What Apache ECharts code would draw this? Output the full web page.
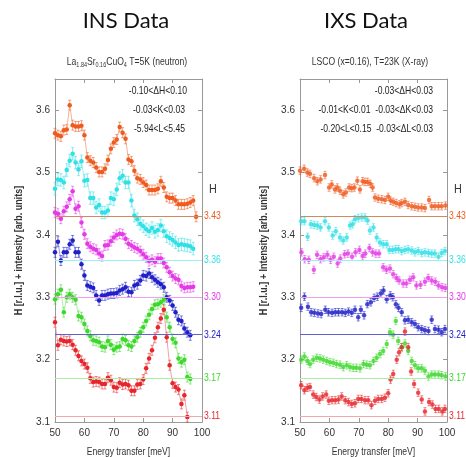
<!DOCTYPE html>
<html>
<head>
<meta charset="utf-8">
<script src="https://cdn.jsdelivr.net/npm/echarts@6/dist/echarts.min.js"></script>
<style>
  html, body { margin: 0; padding: 0; background: #fff; }
  #chart { width: 466px; height: 457px; }
</style>
</head>
<body>
<div id="chart"></div>
<script>
// 数据: 左图 INS (neutron)，能量 50..98 meV，每 1 meV 一个点
var insEnergy = [50,51,52,53,54,55,56,57,58,59,60,61,62,63,64,65,66,67,68,69,70,71,72,73,74,75,76,77,78,79,80,81,82,83,84,85,86,87,88,89,90,91,92,93,94,95,96,97,98];
var insOrange = [3.563,3.560,3.558,3.568,3.569,3.608,3.576,3.574,3.574,3.575,3.560,3.524,3.519,3.516,3.508,3.501,3.501,3.506,3.520,3.538,3.548,3.553,3.573,3.564,3.554,3.521,3.518,3.503,3.491,3.489,3.484,3.480,3.472,3.472,3.472,3.474,3.486,3.476,3.461,3.459,3.459,3.455,3.449,3.449,3.449,3.450,3.452,3.455,3.429];
var insCyan = [3.474,3.489,3.488,3.484,3.504,3.519,3.530,3.516,3.505,3.518,3.487,3.488,3.459,3.459,3.444,3.448,3.436,3.436,3.439,3.459,3.457,3.473,3.491,3.495,3.484,3.484,3.455,3.431,3.425,3.418,3.414,3.409,3.406,3.411,3.405,3.408,3.415,3.406,3.398,3.395,3.392,3.388,3.384,3.385,3.384,3.383,3.382,3.378];
var insMagenta = [3.436,3.434,3.426,3.438,3.445,3.457,3.470,3.442,3.446,3.420,3.401,3.386,3.381,3.378,3.376,3.370,3.366,3.383,3.384,3.390,3.396,3.400,3.402,3.401,3.394,3.386,3.383,3.380,3.378,3.374,3.369,3.364,3.358,3.360,3.357,3.362,3.362,3.355,3.348,3.340,3.334,3.330,3.328,3.318,3.315,3.316,3.316,3.317];
var insBlue = [3.372,3.389,3.359,3.372,3.372,3.385,3.391,3.372,3.372,3.353,3.335,3.319,3.317,3.315,3.303,3.295,3.303,3.303,3.305,3.306,3.306,3.307,3.311,3.313,3.316,3.309,3.308,3.319,3.321,3.327,3.335,3.334,3.338,3.332,3.328,3.324,3.321,3.316,3.300,3.295,3.287,3.276,3.264,3.262,3.250,3.244,3.239];
var insGreen = [3.297,3.305,3.312,3.276,3.300,3.305,3.300,3.296,3.270,3.268,3.257,3.246,3.238,3.231,3.230,3.228,3.221,3.220,3.230,3.224,3.216,3.220,3.221,3.233,3.231,3.223,3.221,3.230,3.236,3.244,3.252,3.262,3.272,3.281,3.288,3.289,3.292,3.296,3.268,3.252,3.233,3.227,3.202,3.196,3.200,3.172,3.169];
var insRed = [3.260,3.223,3.232,3.230,3.229,3.230,3.224,3.215,3.206,3.198,3.193,3.187,3.170,3.164,3.165,3.164,3.161,3.161,3.171,3.167,3.156,3.155,3.163,3.160,3.161,3.159,3.150,3.150,3.160,3.161,3.168,3.186,3.202,3.215,3.235,3.252,3.266,3.280,3.236,3.191,3.162,3.156,3.152,3.129,3.143,3.108];
var insErr = [0.008, 0.010, 0.008, 0.008, 0.008, 0.008];

// 右图 IXS (X-ray)，[能量, H+强度]
var ixsOrange = [[50,3.503],[51.4,3.506],[52.5,3.500],[53.4,3.498],[54.8,3.491],[55.9,3.486],[57,3.489],[58.5,3.496],[59.9,3.476],[60.8,3.481],[61.9,3.473],[62.7,3.476],[63.6,3.471],[64.7,3.465],[65.6,3.468],[66.7,3.476],[67.6,3.475],[68.5,3.476],[69.5,3.487],[70.4,3.473],[71.3,3.486],[72.1,3.485],[73,3.485],[73.9,3.482],[74.7,3.476],[75.5,3.460],[76.6,3.458],[77.8,3.457],[78.9,3.456],[80,3.461],[80.8,3.455],[81.7,3.453],[82.7,3.451],[83.8,3.449],[84.6,3.451],[85.7,3.453],[86.8,3.448],[88,3.446],[89.1,3.445],[90.2,3.444],[91.4,3.444],[92.5,3.443],[93.9,3.456],[94.8,3.446],[95.9,3.446],[97.1,3.446],[98.2,3.446],[99.5,3.447]];
var ixsCyan = [[50.4,3.422],[51.5,3.422],[52.6,3.397],[53.7,3.417],[54.8,3.416],[55.9,3.415],[57,3.412],[58.5,3.422],[59.8,3.412],[61.1,3.399],[62.2,3.406],[63.6,3.396],[64.7,3.391],[65.9,3.396],[67,3.415],[67.9,3.417],[68.7,3.425],[69.8,3.427],[71,3.428],[72.1,3.428],[73,3.423],[73.8,3.407],[75,3.412],[76.1,3.396],[77.2,3.388],[78.3,3.385],[79.5,3.385],[80.4,3.376],[81.5,3.376],[82.5,3.377],[83.5,3.377],[84.6,3.374],[85.7,3.376],[86.8,3.377],[88,3.375],[89.1,3.372],[90.2,3.374],[91.4,3.371],[92.5,3.372],[93.7,3.371],[94.8,3.370],[95.9,3.370],[97.1,3.365],[98.2,3.371],[99.3,3.374]];
var ixsMagenta = [[50.5,3.372],[51.6,3.361],[53,3.360],[54.7,3.344],[55.8,3.368],[57,3.361],[58.1,3.364],[59.3,3.368],[60.4,3.360],[61.5,3.365],[62.8,3.354],[63.7,3.362],[65.2,3.369],[66.3,3.370],[67.7,3.365],[68.9,3.372],[70.2,3.376],[71.3,3.366],[72.2,3.370],[73.6,3.379],[74.7,3.372],[75.8,3.370],[76.9,3.370],[78.3,3.348],[79.4,3.344],[80.6,3.346],[81.7,3.337],[82.8,3.331],[83.7,3.327],[85.1,3.322],[86.2,3.322],[87.4,3.328],[88.5,3.332],[89.6,3.319],[91,3.320],[92.5,3.325],[93.6,3.331],[94.8,3.327],[96,3.325],[97.1,3.319],[98.3,3.316],[99.4,3.315]];
var ixsBlue = [[50.4,3.283],[51.5,3.301],[52.7,3.285],[53.8,3.276],[54.9,3.275],[56.1,3.274],[57.2,3.273],[58.6,3.280],[59.7,3.276],[60.9,3.275],[62,3.276],[63.1,3.276],[64.3,3.276],[65.4,3.275],[66.5,3.277],[67.6,3.275],[68.7,3.280],[69.8,3.268],[70.7,3.280],[71.8,3.271],[72.9,3.289],[74.1,3.292],[75.2,3.299],[76.3,3.301],[77.5,3.306],[78.4,3.311],[79.5,3.297],[80.7,3.303],[81.6,3.300],[82.6,3.289],[83.5,3.283],[84.6,3.276],[85.7,3.263],[86.8,3.264],[88,3.260],[89.1,3.257],[90.2,3.252],[91.4,3.249],[92.5,3.247],[93.7,3.246],[94.8,3.264],[95.9,3.249],[97.1,3.248],[98.2,3.244],[99.3,3.249]];
var ixsGreen = [[50.4,3.200],[51.5,3.205],[52.5,3.198],[53.4,3.193],[54.5,3.200],[55.7,3.203],[56.8,3.202],[57.9,3.200],[59.1,3.198],[60.2,3.196],[61.3,3.195],[62.4,3.193],[63.6,3.192],[64.7,3.188],[65.9,3.191],[67,3.188],[68.1,3.187],[69.2,3.187],[70.4,3.186],[71.6,3.193],[72.7,3.192],[73.8,3.191],[75,3.198],[76.1,3.203],[77.2,3.209],[78.3,3.214],[79.5,3.225],[80.6,3.244],[81.7,3.240],[82.6,3.262],[83.4,3.230],[84.6,3.220],[85.7,3.226],[86.8,3.214],[88,3.198],[89.1,3.191],[90.2,3.186],[91.4,3.186],[92.5,3.182],[93.7,3.173],[94.8,3.176],[95.9,3.176],[97.1,3.176],[98.2,3.175],[99.5,3.173]];
var ixsRed = [[50.4,3.159],[51.5,3.151],[52.5,3.155],[53.4,3.156],[54.5,3.144],[55.5,3.140],[56.6,3.136],[57.7,3.141],[58.9,3.144],[59.8,3.134],[60.9,3.135],[62,3.135],[63.1,3.136],[64.2,3.141],[65.4,3.135],[66.5,3.132],[67.6,3.129],[68.7,3.130],[69.8,3.137],[70.9,3.137],[72.1,3.135],[73.2,3.135],[74.3,3.127],[75.5,3.134],[76.6,3.137],[77.8,3.137],[78.9,3.139],[80,3.146],[80.8,3.168],[81.7,3.177],[82.9,3.200],[83.7,3.212],[84.6,3.220],[85.7,3.245],[86.8,3.220],[87.8,3.181],[88.8,3.161],[90.2,3.147],[91.4,3.136],[92.5,3.117],[93.9,3.132],[95,3.128],[96.1,3.121],[97.2,3.121],[98.4,3.117],[99.3,3.121]];
var ixsErr = [0.006, 0.006, 0.006, 0.006, 0.006, 0.006];

// 各条曲线对应的 H 值
var hValues = [3.43, 3.36, 3.30, 3.24, 3.17, 3.11];
var colors = ['#ef5a1f', '#2fe0e6', '#e43ae6', '#2020c8', '#3cd82a', '#e6262b'];
var lineColors = ['#f2a078', '#8aeef0', '#f090f0', '#8080e0', '#98ec8c', '#f08a8a'];
var refColors = ['#d08a60', '#9af0f0', '#f0a0f0', '#6060d0', '#a8f0a0', '#f4a8a8'];

var FONT = '"Liberation Sans", Arial, sans-serif';
var NARROW = 0.78;

var myChart = echarts.init(document.getElementById('chart'));

function pairs(xs, ys) {
    var out = [];
    for (var i = 0; i < ys.length; i++) {
        out.push([xs[i], ys[i]]);
    }
    return out;
}

// 窄体文字 (横向压缩)
function txt(x, y, text, size, opts) {
    opts = opts || {};
    var el = {
        type: 'text',
        x: x,
        y: y,
        scaleX: opts.scale || NARROW,
        rotation: opts.rotation || 0,
        silent: true,
        z: 100,
        style: {
            text: text,
            font: (opts.weight || 'normal') + ' ' + size + 'px ' + (opts.family || FONT),
            fill: opts.color || '#333',
            align: opts.align || 'left',
            verticalAlign: 'middle',
            textAlign: opts.align || 'left',
            textVerticalAlign: 'middle'
        }
    };
    if (opts.rich) el.style.rich = opts.rich;
    return el;
}

// 误差棒 (custom series)
function errSeries(points, err, color, axisIdx) {
    return {
        type: 'custom',
        xAxisIndex: axisIdx * 2,
        yAxisIndex: axisIdx * 2,
        silent: true,
        z: 2,
        encode: { x: 0, y: [1, 2] },
        data: points.map(function (p) { return [p[0], p[1] - err, p[1] + err]; }),
        renderItem: function (params, api) {
            var lo = api.coord([api.value(0), api.value(1)]);
            var hi = api.coord([api.value(0), api.value(2)]);
            var c = 1.5;
            var st = { stroke: color, lineWidth: 0.7, opacity: 0.8 };
            return {
                type: 'group',
                children: [
                    { type: 'line', shape: { x1: lo[0], y1: lo[1], x2: hi[0], y2: hi[1] }, style: st },
                    { type: 'line', shape: { x1: lo[0] - c, y1: lo[1], x2: lo[0] + c, y2: lo[1] }, style: st },
                    { type: 'line', shape: { x1: hi[0] - c, y1: hi[1], x2: hi[0] + c, y2: hi[1] }, style: st }
                ]
            };
        }
    };
}

function dataSeries(points, i, axisIdx, withLine) {
    return {
        type: withLine ? 'line' : 'scatter',
        xAxisIndex: axisIdx * 2,
        yAxisIndex: axisIdx * 2,
        data: points,
        symbol: 'circle',
        symbolSize: 4.5,
        showSymbol: true,
        z: 3,
        itemStyle: { color: colors[i] },
        lineStyle: { color: lineColors[i], width: 0.8 },
        silent: true,
        markLine: {
            silent: true,
            symbol: 'none',
            animation: false,
            lineStyle: { color: refColors[i], width: 1, type: 'solid' },
            label: { show: false },
            data: [{ yAxis: hValues[i] }]
        }
    };
}

function xAxes(gi) {
    var base = {
        type: 'value', gridIndex: gi, min: 50, max: 100, interval: 10,
        axisLine: { show: true, lineStyle: { color: '#999', width: 1 } },
        axisTick: { show: true, inside: true, length: 4, lineStyle: { color: '#999' } },
        splitLine: { show: false }
    };
    return [
        Object.assign({}, base, {
            position: 'bottom',
            axisLabel: { color: '#333', fontSize: 10, fontFamily: FONT, margin: 6 }
        }),
        Object.assign({}, base, { position: 'top', axisLabel: { show: false } })
    ];
}

function yAxes(gi) {
    var base = {
        type: 'value', gridIndex: gi, min: 3.1, max: 3.65, interval: 0.1,
        axisLine: { show: true, lineStyle: { color: '#999', width: 1 } },
        axisTick: { show: true, inside: true, length: 4, lineStyle: { color: '#999' } },
        splitLine: { show: false }
    };
    return [
        Object.assign({}, base, {
            position: 'left',
            axisLabel: {
                color: '#333', fontSize: 10, fontFamily: FONT, margin: 5, showMaxLabel: false,
                formatter: function (v) { return Math.abs(v * 10 - Math.round(v * 10)) < 1e-6 ? v.toFixed(1) : ''; }
            }
        }),
        Object.assign({}, base, { position: 'right', axisLabel: { show: false } })
    ];
}

var insSets = [insOrange, insCyan, insMagenta, insBlue, insGreen, insRed];
var ixsSets = [ixsOrange, ixsCyan, ixsMagenta, ixsBlue, ixsGreen, ixsRed];

var series = [];
insSets.forEach(function (vals, i) {
    var pts = pairs(insEnergy, vals);
    series.push(errSeries(pts, insErr[i], colors[i], 0));
    series.push(dataSeries(pts, i, 0, true));
});
ixsSets.forEach(function (pts, i) {
    series.push(errSeries(pts, ixsErr[i], colors[i], 1));
    series.push(dataSeries(pts, i, 1, false));
});

var option = {
    animation: false,
    grid: [
        { left: 55, top: 79, width: 147, height: 343 },
        { left: 300, top: 79, width: 147, height: 343 }
    ],
    xAxis: xAxes(0).concat(xAxes(1)),
    yAxis: yAxes(0).concat(yAxes(1)),
    series: series
};

myChart.setOption(option);

// 文字标注
var subRich = {
    n: { font: 'normal 11px ' + FONT, fill: '#333', fontSize: 11, fontFamily: FONT },
    s: { font: 'normal 7px ' + FONT, fill: '#333', fontSize: 7, fontFamily: FONT, padding: [7, 0, 0, 0] }
};

var graphics = [
    txt(126, 21, 'INS Data', 22, { align: 'center', family: 'Lato', color: '#111', scale: 1 }),
    txt(366, 21, 'IXS Data', 22, { align: 'center', family: 'Lato', color: '#111', scale: 1 }),
    txt(127, 62, '{n|La}{s|1.84}{n|Sr}{s|0.16}{n|CuO}{s|4}{n| T=5K (neutron)}', 11, { align: 'center', rich: subRich }),
    txt(370, 62, 'LSCO (x=0.16), T=23K (X-ray)', 11, { align: 'center' }),
    txt(187, 91, '-0.10<\u0394H<0.10', 11, { align: 'right', color: '#222' }),
    txt(185, 110, '-0.03<K<0.03', 11, { align: 'right', color: '#222' }),
    txt(185, 129, '-5.94<L<5.45', 11, { align: 'right', color: '#222' }),
    txt(433, 91, '-0.03<\u0394H<0.03', 11, { align: 'right', color: '#222' }),
    txt(433, 110, '-0.01<K<0.01  -0.03<\u0394K<0.03', 11, { align: 'right', color: '#222' }),
    txt(433, 129, '-0.20<L<0.15  -0.03<\u0394L<0.03', 11, { align: 'right', color: '#222' }),
    txt(213, 190, 'H', 12, { align: 'center', scale: 0.9 }),
    txt(458, 190, 'H', 12, { align: 'center', scale: 0.9 })
];

// 坐标轴名称 (通过坐标轴换算位置)
[0, 1].forEach(function (g) {
    var x0 = myChart.convertToPixel({ xAxisIndex: g * 2 }, 50);
    var x1 = myChart.convertToPixel({ xAxisIndex: g * 2 }, 100);
    var y0 = myChart.convertToPixel({ yAxisIndex: g * 2 }, 3.1);
    var y1 = myChart.convertToPixel({ yAxisIndex: g * 2 }, 3.65);
    graphics.push(txt((x0 + x1) / 2, y0 + 30, 'Energy transfer [meV]', 11, { align: 'center' }));
    graphics.push(txt(x0 - 36, (y0 + y1) / 2, g === 0 ? 'H [r.l.u.] + intensity [arb. units]' : 'H [r.l.u.] + Intensity [arb. units]', 11.5,
        { align: 'center', rotation: Math.PI / 2, weight: 'bold' }));
    hValues.forEach(function (h, i) {
        var py = myChart.convertToPixel({ yAxisIndex: g * 2 }, h);
        graphics.push(txt(x1 + 2, py, h.toFixed(2), 11, { color: colors[i] }));
    });
});

myChart.setOption({ graphic: graphics });
</script>
</body>
</html>
